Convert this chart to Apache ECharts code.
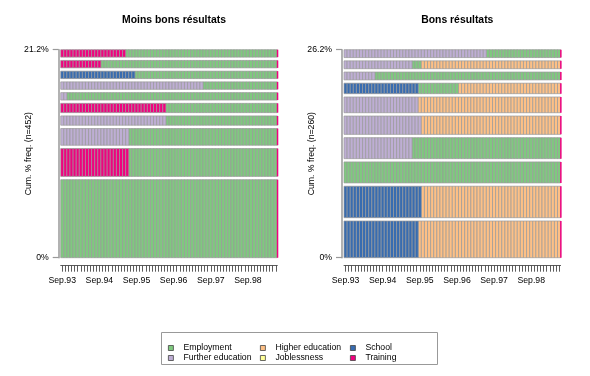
<!DOCTYPE html>
<html>
<head>
<meta charset="utf-8">
<script src="https://cdn.jsdelivr.net/npm/echarts@6/dist/echarts.min.js"></script>
<style>
  html, body { margin: 0; padding: 0; background: #fff; }
  #chart { width: 590px; height: 376px; }
</style>
</head>
<body>
<div id="chart"></div>
<script>
// states of the sequences (alphabet) and their colours
const stateCodes = ["EM", "FE", "HE", "JL", "SC", "TR"];
const stateNames = ["Employment", "Further education", "Higher education", "Joblessness", "School", "Training"];
const stateColors = ["#7FC97F", "#BEAED4", "#FDC086", "#FFFF99", "#386CB0", "#F0027F"];

// month labels on the x axis (70 months from Sep.93)
const monthAbbr = ["Jan", "Feb", "Mar", "Apr", "May", "Jun", "Jul", "Aug", "Sep", "Oct", "Nov", "Dec"];
const xTickLabels = ["Sep.93", "Sep.94", "Sep.95", "Sep.96", "Sep.97", "Sep.98"];

// left panel: 10 most frequent sequences, top to bottom
const leftTitle = "Moins bons résultats";
const leftN = 452;
const leftCounts = [4, 4, 4, 4, 4, 5, 5, 9, 15, 42];
const leftSeqs = [
    [["TR", 21], ["EM", 49]],
    [["TR", 13], ["EM", 57]],
    [["SC", 24], ["EM", 46]],
    [["FE", 46], ["EM", 24]],
    [["FE", 2], ["EM", 68]],
    [["TR", 34], ["EM", 36]],
    [["FE", 34], ["EM", 36]],
    [["FE", 22], ["EM", 48]],
    [["TR", 22], ["EM", 48]],
    [["EM", 70]],
];

// right panel
const rightTitle = "Bons résultats";
const rightN = 260;
const rightCounts = [3, 3, 3, 4, 6, 7, 8, 8, 12, 14];
const rightSeqs = [
    [["FE", 46], ["EM", 24]],
    [["FE", 22], ["EM", 3], ["HE", 45]],
    [["FE", 10], ["EM", 60]],
    [["SC", 24], ["EM", 13], ["HE", 33]],
    [["FE", 24], ["HE", 46]],
    [["FE", 25], ["HE", 45]],
    [["FE", 22], ["EM", 48]],
    [["EM", 70]],
    [["SC", 25], ["HE", 45]],
    [["SC", 24], ["HE", 46]],
];

const NMONTHS = 70;
const GAP = 3.3 / 208; // white space between bars, as part of the axis height
const FONT = "Liberation Sans";

const months = [];
for (let i = 0; i < NMONTHS; i++) {
    const m = (8 + i) % 12;
    const y = 93 + Math.floor((8 + i) / 12);
    months.push(monthAbbr[m] + "." + String(y % 100).padStart(2, "0"));
}

// bar positions (bottom to top), in % units with gaps
const layoutRows = (counts, n) => {
    const pct = counts.map(c => c / n * 100);
    const total = pct.reduce((a, b) => a + b, 0);
    const max = total / (1 - (counts.length - 1) * GAP);
    const g = GAP * max;
    const pos = [];
    let y = 0;
    for (let i = counts.length - 1; i >= 0; i--) {
        pos[i] = [y, y + pct[i]];
        y = y + pct[i] + g;
    }
    return { pos, total, max };
};

const renderCell = (params, api) => {
    const b = api.coord([api.value(0), api.value(1)]);
    const t = api.coord([api.value(0), api.value(2)]);
    const w = api.size([1, 0])[0];
    const rect = {
        type: "rect",
        shape: { x: b[0] - w / 2, y: t[1], width: w, height: b[1] - t[1] },
        style: { fill: api.visual("color"), stroke: "#9a9a9a", lineWidth: 0.7 },
    };
    if (api.value(3)) {
        return {
            type: "group",
            children: [rect, {
                type: "rect",
                shape: { x: b[0] + w / 2 - 0.5, y: t[1], width: 1.5, height: b[1] - t[1] },
                style: { fill: "#F0027F" },
            }],
        };
    }
    return rect;
};

const panels = [
    { title: leftTitle, n: leftN, counts: leftCounts, seqs: leftSeqs, left: 60.7 },
    { title: rightTitle, n: rightN, counts: rightCounts, seqs: rightSeqs, left: 344 },
];

const grids = [], xAxes = [], yAxes = [], titles = [], series = [];

panels.forEach((p, pi) => {
    const lay = layoutRows(p.counts, p.n);
    grids.push({ left: p.left, top: 49.7, width: 216.6, height: 208 });
    titles.push({
        text: p.title,
        left: p.left + 108.3,
        top: 10,
        textAlign: "center",
        textStyle: { fontFamily: FONT, fontSize: 10.4, fontWeight: "bold", color: "#000" },
    });
    xAxes.push({
        type: "category",
        gridIndex: pi,
        data: months,
        offset: 8,
        axisLine: { show: true, onZero: false, lineStyle: { color: "#333", width: 0.8 } },
        axisTick: { show: true, alignWithLabel: true, interval: 0, length: 6, lineStyle: { color: "#333", width: 0.8 } },
        axisLabel: {
            interval: 11,
            margin: 10,
            fontFamily: FONT,
            fontSize: 8.7,
            color: "#000",
            formatter: v => (xTickLabels.includes(v) ? v : ""),
        },
        splitLine: { show: false },
    });
    yAxes.push({
        type: "value",
        gridIndex: pi,
        min: 0,
        max: lay.max,
        interval: lay.max,
        offset: 2,
        name: "Cum. % freq. (n=" + p.n + ")",
        nameLocation: "middle",
        nameGap: 26,
        nameMoveOverlap: false,
        nameTextStyle: { fontFamily: FONT, fontSize: 8.7, color: "#000" },
        axisLine: { show: true, lineStyle: { color: "#999", width: 1.5 } },
        axisTick: { show: true, length: 6, lineStyle: { color: "#999", width: 1.2 } },
        axisLabel: {
            margin: 10,
            fontFamily: FONT,
            fontSize: 8.7,
            color: "#000",
            formatter: v => (v === 0 ? "0%" : lay.total.toFixed(1) + "%"),
        },
        splitLine: { show: false },
    });

    // one custom series per state, cells taken from the sequences
    stateCodes.forEach((code, si) => {
        const data = [];
        p.seqs.forEach((seq, ri) => {
            let m = 0;
            seq.forEach(([st, len]) => {
                for (let k = 0; k < len; k++) {
                    if (st === code) {
                        data.push([m, lay.pos[ri][0], lay.pos[ri][1], m === NMONTHS - 1 ? 1 : 0]);
                    }
                    m++;
                }
            });
        });
        series.push({
            type: "custom",
            name: stateNames[si],
            xAxisIndex: pi,
            yAxisIndex: pi,
            itemStyle: { color: stateColors[si] },
            encode: { x: 0, y: [1, 2] },
            renderItem: renderCell,
            data: data,
        });
    });
});

const legendCols = [[0, 1], [2, 3], [4, 5]];
const legendLefts = [163, 255, 345];
const legends = legendCols.map((idx, ci) => ({
    orient: "vertical",
    left: legendLefts[ci],
    top: 338,
    itemGap: 0,
    itemWidth: 15,
    itemHeight: 5,
    icon: "path://M0,0h10v10h-10z",
    itemStyle: { borderColor: "#444", borderWidth: 0.8 },
    textStyle: { fontFamily: FONT, fontSize: 8.7, color: "#000", lineHeight: 10 },
    selectedMode: false,
    data: idx.map(i => stateNames[i]),
}));

const chart = echarts.init(document.getElementById("chart"), null, { renderer: "canvas" });
chart.setOption({
    animation: false,
    backgroundColor: "#fff",
    title: titles,
    grid: grids,
    xAxis: xAxes,
    yAxis: yAxes,
    legend: legends,
    graphic: [{
        type: "rect",
        shape: { x: 161.5, y: 332.5, width: 276, height: 32 },
        style: { fill: "none", stroke: "#999", lineWidth: 1 },
    }],
    series: series,
});
</script>
</body>
</html>
